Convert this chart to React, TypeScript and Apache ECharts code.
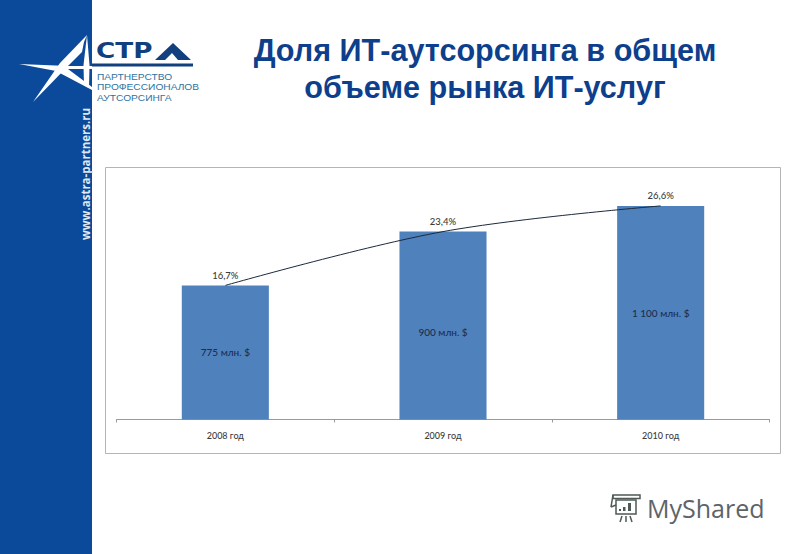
import React, { useEffect, useRef } from "react";
import * as echarts from "echarts";

const categories = ["2008 год", "2009 год", "2010 год"];
const shares = [16.7, 23.4, 26.6];
const amounts = ["775 млн. $", "900 млн. $", "1 100 млн. $"];
const amountOffsets = [0, 6, 0];
const titleLines = ["Доля ИТ-аутсорсинга в общем", "объеме рынка ИТ-услуг"];
const logoLines = ["ПАРТНЕРСТВО", "ПРОФЕССИОНАЛОВ", "АУТСОРСИНГА"];

const BLUE = "#0b4a9b";
const LOGO = "#123f7d";
const GREY = "#4e5a58";

function poly(points: number[][], fill: string) {
  return { type: "polygon", shape: { points }, style: { fill }, silent: true };
}
function seg(x1: number, y1: number, x2: number, y2: number, w = 1.5) {
  return { type: "line", shape: { x1, y1, x2, y2 }, style: { stroke: GREY, lineWidth: w }, silent: true };
}

export default function App() {
  const ref = useRef<HTMLDivElement>(null);
  useEffect(() => {
    const chart = echarts.init(ref.current!, undefined, { renderer: "svg" });
    const percent = (v: number) => v.toFixed(1).replace(".", ",") + "%";
    chart.setOption({
      animation: false,
      backgroundColor: "#ffffff",
      grid: { left: 116.5, right: 30.5, top: 178.6, bottom: 134.5 },
      xAxis: {
        type: "category",
        data: categories,
        axisLine: { lineStyle: { color: "#9a9a9a", width: 1 } },
        axisTick: { show: true, length: 3, lineStyle: { color: "#9a9a9a" } },
        axisLabel: { color: "#3c3c3c", fontFamily: "Lato", fontSize: 9, fontWeight: 500, margin: 11 },
      },
      yAxis: { type: "value", min: 0, max: 30, show: false, splitLine: { show: false } },
      series: [
        {
          type: "bar",
          data: shares.map((value, i) => ({
            value,
            label: {
              show: true,
              position: "inside",
              offset: [0, amountOffsets[i]],
              formatter: () => amounts[i],
              color: "#1d2f50",
              fontFamily: "Lato",
              fontSize: 10,
              fontWeight: 500,
            },
          })),
          barWidth: "40%",
          itemStyle: { color: "#4f81bd" },
        },
        {
          type: "line",
          data: shares,
          smooth: 0.35,
          symbol: "circle",
          symbolSize: 0,
          lineStyle: { color: "#1b2a3c", width: 1 },
          label: {
            show: true,
            position: "top",
            distance: 5,
            formatter: (p: any) => percent(p.value),
            color: "#3c3c3c",
            fontFamily: "Lato",
            fontSize: 9.5,
            fontWeight: 500,
          },
        },
      ],
      graphic: {
        elements: [
          { type: "rect", z: -10, shape: { x: 0, y: 0, width: 92, height: 554 }, style: { fill: BLUE }, silent: true },
          { type: "rect", z: -10, shape: { x: 105.5, y: 167.5, width: 675, height: 286 }, style: { fill: "#fff", stroke: "#b5b5b5", lineWidth: 1 }, silent: true },
          poly([[87, 35], [60, 63], [33, 102], [66, 68], [82, 52], [84, 42]], "#ffffff"),
          poly([[19, 64], [68, 66], [92, 66], [92, 69], [68, 69], [92, 87], [92, 90], [56, 71]], "#ffffff"),
          poly([[87, 35], [83.5, 65], [84, 85], [89, 88], [89.5, 65]], "#ffffff"),
          { type: "rect", shape: { x: 92, y: 63.5, width: 101, height: 3 }, style: { fill: LOGO }, silent: true },
          {
            type: "text", x: 96, y: 61, scaleX: 1.25, silent: true,
            style: { text: "СТР", font: "bold 21px 'DejaVu Sans'", fill: LOGO, textVerticalAlign: "bottom", textAlign: "left" },
          },
          poly([[155, 60], [173, 43], [191, 60], [178, 60], [172, 53], [165, 60]], LOGO),
          ...logoLines.map((text, i) => ({
            type: "text", x: 97, y: 76.5 + i * 10.6, scaleX: 1.12, silent: true,
            style: { text, font: "9.1px 'Liberation Sans'", fill: "#2f739f", textVerticalAlign: "middle", textAlign: "left" },
          })),
          {
            type: "text", x: 85, y: 174, rotation: Math.PI / 2, silent: true,
            style: { text: "www.astra-partners.ru", font: "bold 11.5px 'Open Sans'", fill: "#dfe8f5", textAlign: "center", textVerticalAlign: "middle" },
          },
          ...titleLines.map((text, i) => ({
            type: "text", x: 485, y: 50 + i * 37, silent: true,
            style: {
              text, font: "bold 30.6px 'Liberation Sans'", fill: "#0e3f8c", textAlign: "center", textVerticalAlign: "middle",
              shadowColor: "rgba(40,70,130,0.8)", shadowBlur: 4, shadowOffsetX: 1, shadowOffsetY: 1,
            },
          })),
          { type: "rect", shape: { x: 616, y: 500, width: 20, height: 14 }, style: { fill: "transparent", stroke: GREY, lineWidth: 1.5 }, silent: true },
          { type: "rect", shape: { x: 613, y: 495, width: 27, height: 3.5 }, style: { fill: "transparent", stroke: GREY, lineWidth: 1.5 }, silent: true },
          seg(613, 495, 611, 507),
          seg(611, 507, 616, 505),
          { type: "rect", shape: { x: 619, y: 509, width: 2, height: 2 }, style: { fill: GREY }, silent: true },
          { type: "rect", shape: { x: 623, y: 507, width: 2.5, height: 4 }, style: { fill: GREY }, silent: true },
          { type: "rect", shape: { x: 628, y: 503, width: 3, height: 8 }, style: { fill: GREY }, silent: true },
          seg(622, 516, 620, 522),
          seg(626, 516, 626, 522),
          seg(630, 516, 632, 522),
          {
            type: "text", x: 647, y: 508, silent: true,
            style: { text: "MyShared", font: "25px 'Open Sans'", fill: "#5d6468", textAlign: "left", textVerticalAlign: "middle" },
          },
        ],
      },
    });
    return () => chart.dispose();
  }, []);
  return <div ref={ref} style={{ position: "absolute", left: 0, top: 0, width: 800, height: 554 }} />;
}
